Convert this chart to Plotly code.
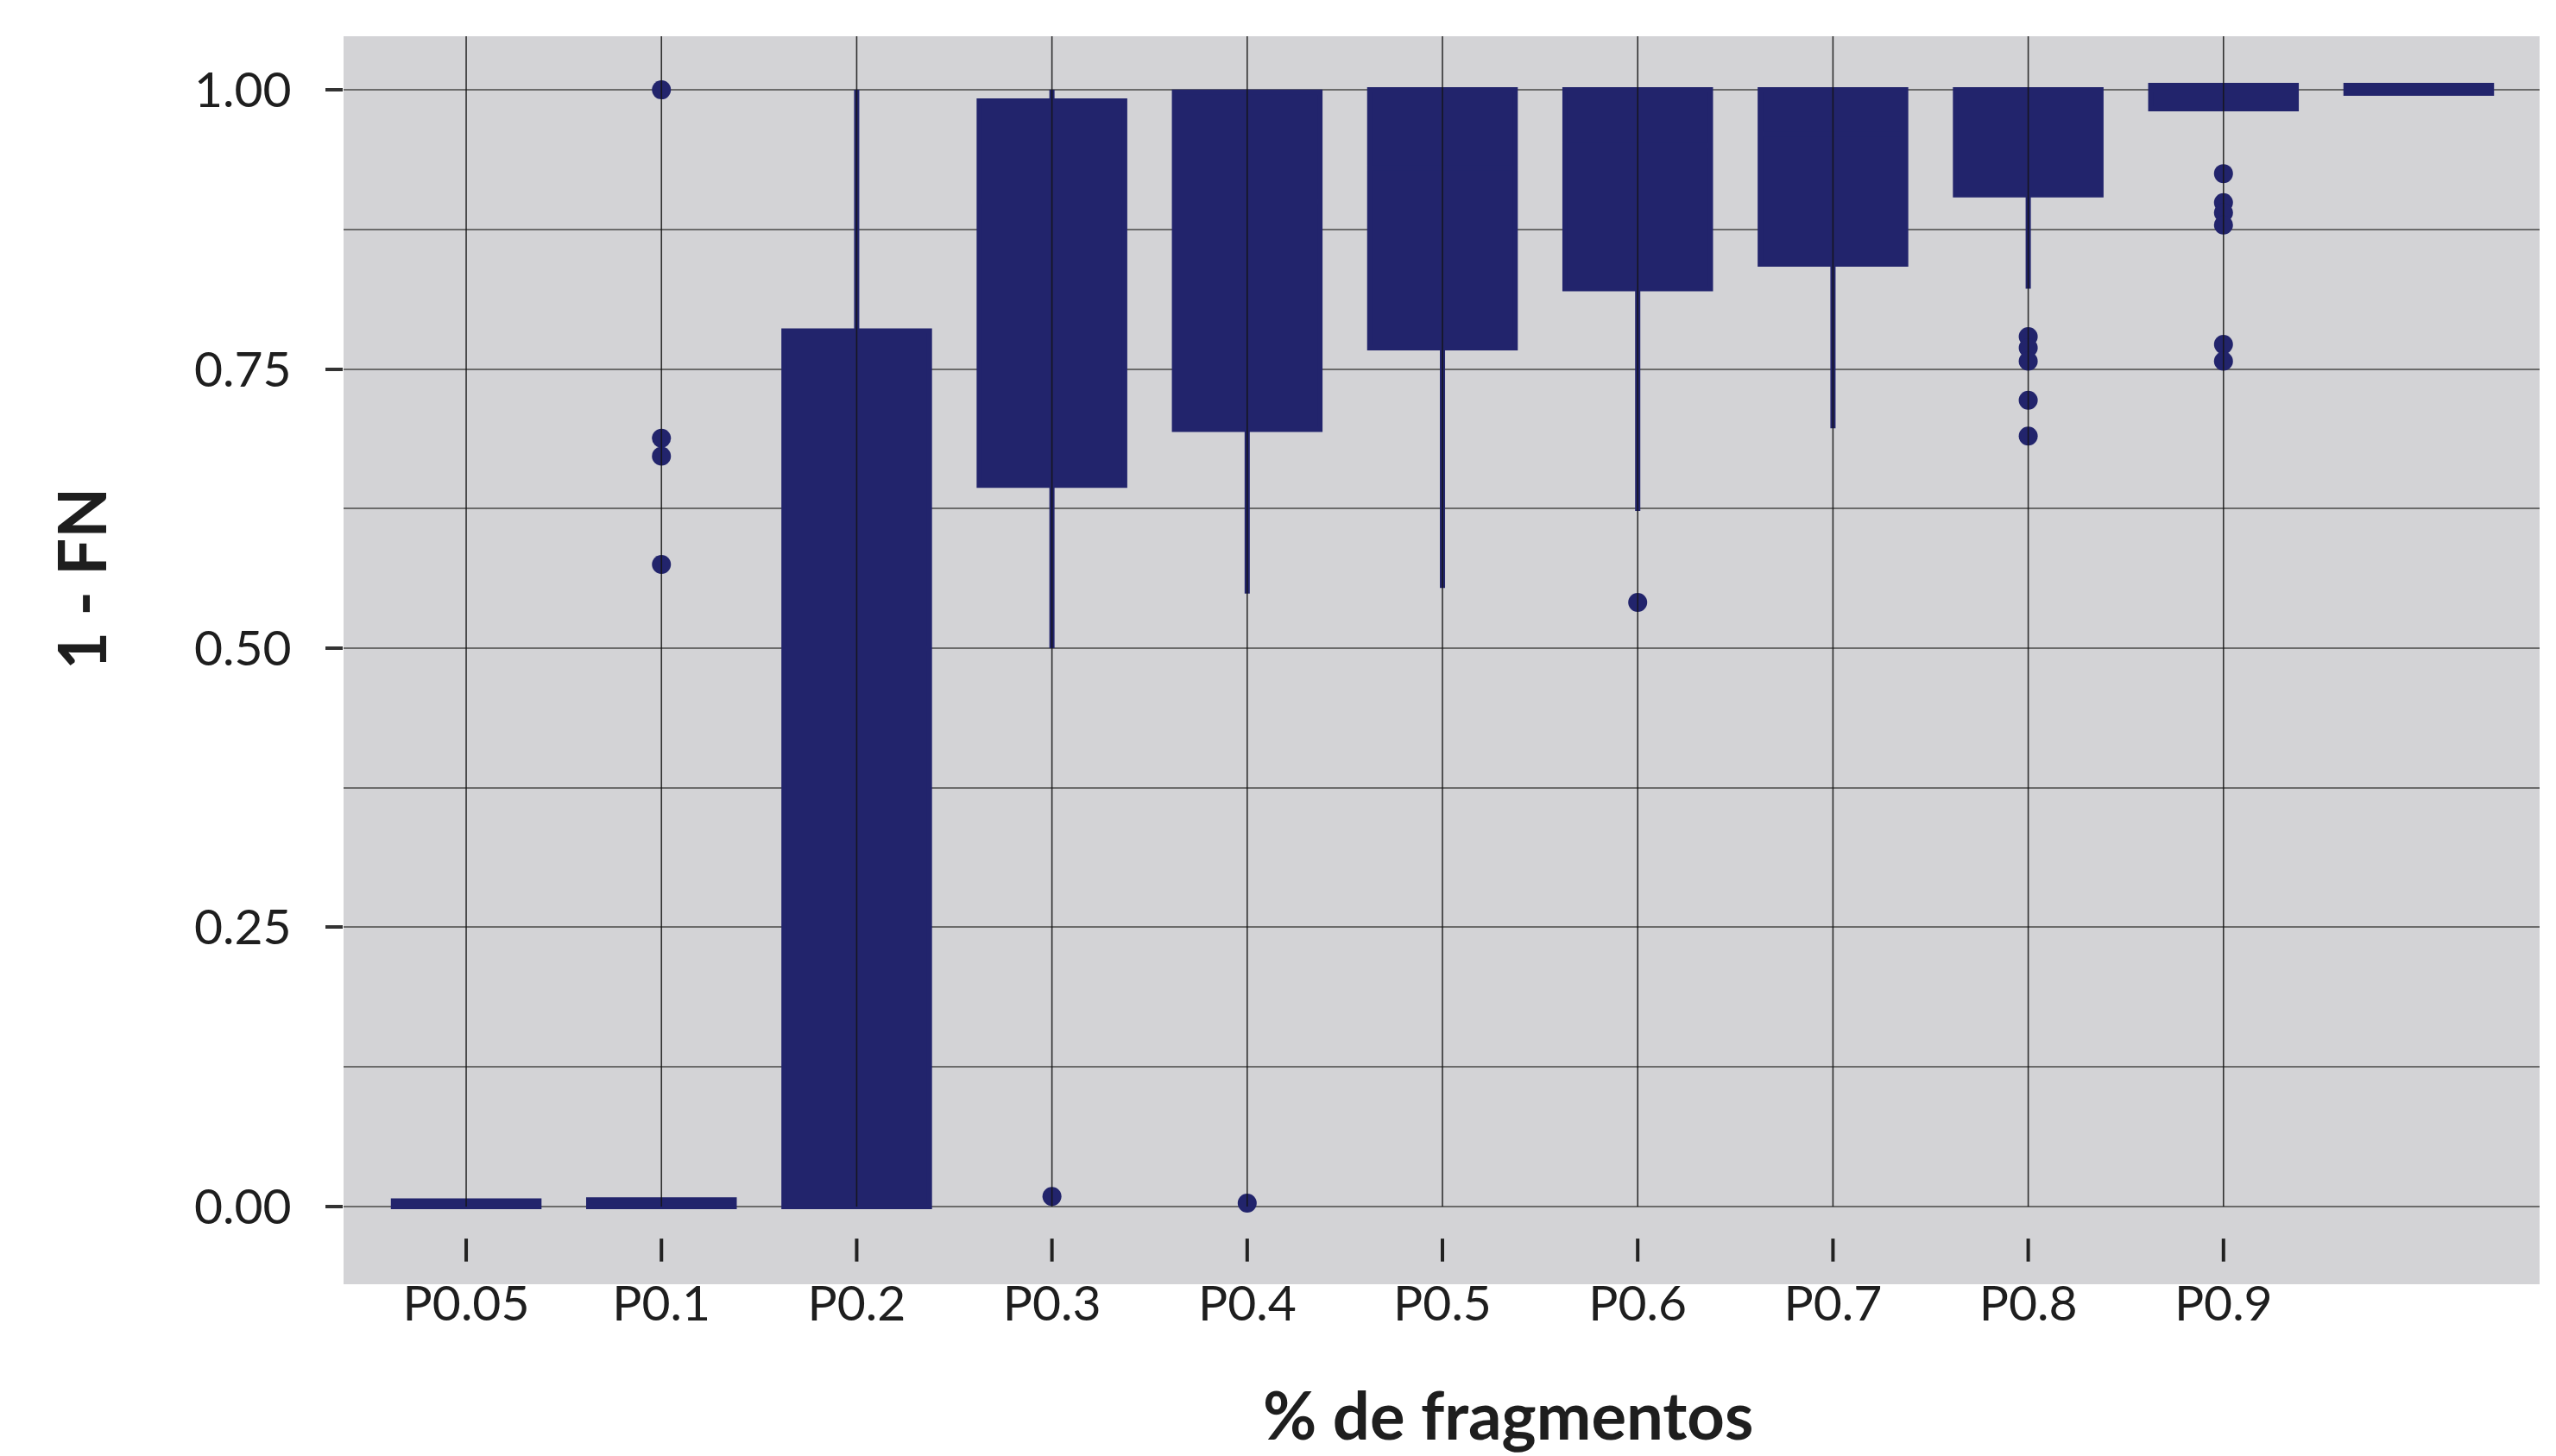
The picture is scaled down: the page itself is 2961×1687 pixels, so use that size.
import plotly.graph_objects as go

categories = ["P0.05", "P0.1", "P0.2", "P0.3", "P0.4", "P0.5", "P0.6", "P0.7", "P0.8", "P0.9", "P1.0"]
tick_labels = ["P0.05", "P0.1", "P0.2", "P0.3", "P0.4", "P0.5", "P0.6", "P0.7", "P0.8", "P0.9"]

q1 =          [0.000, 0.000, 0.000, 0.646, 0.696, 0.769, 0.822, 0.844, 0.906, 0.983, 0.997]
median =      [0.000, 0.000, 0.500, 0.900, 0.900, 0.930, 0.950, 0.960, 0.980, 1.000, 1.000]
q3 =          [0.005, 0.006, 0.784, 0.990, 0.998, 1.000, 1.000, 1.000, 1.000, 1.004, 1.004]
lower_fence = [0.000, 0.000, 0.000, 0.500, 0.549, 0.554, 0.623, 0.697, 0.822, 0.983, 0.997]
upper_fence = [0.005, 0.006, 1.000, 1.000, 0.998, 1.000, 1.000, 1.000, 1.000, 1.004, 1.004]

outlier_cat = ["P0.1", "P0.1", "P0.1", "P0.1",
               "P0.3", "P0.4", "P0.6",
               "P0.8", "P0.8", "P0.8", "P0.8", "P0.8",
               "P0.9", "P0.9", "P0.9", "P0.9", "P0.9", "P0.9"]
outlier_val = [1.000, 0.688, 0.672, 0.575,
               0.009, 0.003, 0.541,
               0.779, 0.769, 0.757, 0.722, 0.690,
               0.925, 0.899, 0.890, 0.879, 0.772, 0.757]

NAVY = "#22246C"
BG = "#D3D3D6"
FONT = "Lato"

fig = go.Figure()

fig.add_trace(go.Box(
    x=categories, q1=q1, median=median, q3=q3,
    lowerfence=lower_fence, upperfence=upper_fence,
    fillcolor=NAVY, line=dict(color=NAVY, width=6),
    whiskerwidth=0, width=0.745, boxpoints=False,
    showlegend=False, hoverinfo="skip",
))

fig.add_trace(go.Scatter(
    x=outlier_cat, y=outlier_val, mode="markers",
    marker=dict(color=NAVY, size=22, line=dict(width=0)),
    showlegend=False, hoverinfo="skip",
))

# vertical grid lines (drawn over boxes as in reference), from y=0 to the top
gx, gy = [], []
for c in tick_labels:
    gx += [c, c, None]
    gy += [0, 1.048, None]
fig.add_trace(go.Scatter(
    x=gx, y=gy, mode="lines",
    line=dict(color="rgba(20,20,20,0.85)", width=1.6),
    showlegend=False, hoverinfo="skip",
))

# x tick marks sitting inside the grey strip below y=0
fig.add_trace(go.Scatter(
    x=tick_labels, y=[-0.039] * len(tick_labels), mode="markers",
    marker=dict(symbol="line-ns", size=19, line=dict(color="#222222", width=4)),
    showlegend=False, hoverinfo="skip",
))

fig.update_layout(
    width=2953, height=1679,
    margin=dict(l=390, r=19, t=34, b=199),
    paper_bgcolor="white", plot_bgcolor=BG,
    font=dict(family=FONT, color="#1e1e1e"),
    xaxis=dict(
        type="category", categoryorder="array", categoryarray=categories,
        range=[-0.628, 10.619],
        tickmode="array", tickvals=tick_labels, ticktext=tick_labels,
        showgrid=False, zeroline=False, showline=False, ticks="",
        tickfont=dict(family=FONT, size=57, color="#1e1e1e"),
        ticklabelstandoff=-16,
    ),
    yaxis=dict(
        range=[-0.0696, 1.048],
        tickmode="array", tickvals=[0, 0.25, 0.5, 0.75, 1.0],
        ticktext=["0.00", "0.25", "0.50", "0.75", "1.00"],
        showgrid=True, gridcolor="#6B6B6B", gridwidth=1.6,
        minor=dict(tickmode="array", tickvals=[0.125, 0.375, 0.625, 0.875],
                   showgrid=True, gridcolor="#6B6B6B", gridwidth=1.6, ticks=""),
        zeroline=False, showline=False,
        ticks="outside", ticklen=20, tickwidth=4, tickcolor="#333333",
        tickfont=dict(family=FONT, size=57, color="#1e1e1e"),
        ticklabelstandoff=28,
    ),
    annotations=[
        dict(text="<b>1 - FN</b>", xref="paper", yref="paper",
             x=-0.1195, y=0.5657, xanchor="center", yanchor="middle",
             textangle=-90, showarrow=False,
             font=dict(family=FONT, size=76, color="#1e1e1e")),
        dict(text="<b>% de fragmentos</b>", xref="paper", yref="paper",
             x=0.5303, y=-0.104, xanchor="center", yanchor="middle",
             showarrow=False,
             font=dict(family=FONT, size=76, color="#1e1e1e")),
    ],
)

fig.write_html("out.html")
